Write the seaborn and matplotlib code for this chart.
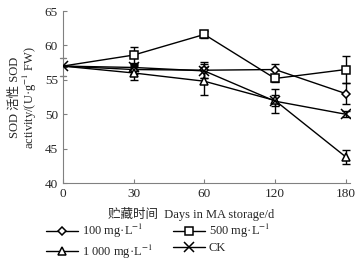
import numpy as np
import pandas as pd
import matplotlib
matplotlib.use('Agg')
import matplotlib.pyplot as plt
import seaborn as sns

# data
days = ['0', '30', '60', '120', '180']
groups = ['100 mg·L$^{-1}$', '500 mg·L$^{-1}$', '1 000 mg·L$^{-1}$', 'CK']
v100 = [57.0, 56.5, 56.4, 56.5, 53.0]
e100 = [0.0, 0.6, 1.2, 0.8, 1.5]
v500 = [57.0, 58.6, 61.6, 55.2, 56.5]
e500 = [0.0, 1.2, 0.5, 0.5, 1.9]
v1000 = [57.0, 56.0, 54.8, 52.0, 43.8]
e1000 = [0.0, 1.0, 2.0, 0.8, 1.0]
vck = [57.0, 56.8, 56.3, 51.9, 50.0]
eck = [0.0, 0.5, 1.0, 1.7, 0.4]

vals = [v100, v500, v1000, vck]
errs = [e100, e500, e1000, eck]
marks = ['D', 's', '^', 'x']
msize = [4.5, 5.5, 6, 7]

sns.set_style('ticks')
plt.rcParams['font.family'] = ['Liberation Serif', 'Noto Sans CJK SC']
plt.rcParams['mathtext.fontset'] = 'stix'
plt.rcParams['font.size'] = 9

fig = plt.figure(figsize=(3.59, 2.63), dpi=100)
ax = fig.add_axes([0.175, 0.304, 0.80, 0.654])

handles = []
for k, (g, v, e, m, s) in enumerate(zip(groups, vals, errs, marks, msize)):
    d = pd.DataFrame({'pos': range(len(days)), 'val': v})
    ax.errorbar(d['pos'], d['val'], yerr=e, fmt='none', ecolor='black',
                elinewidth=1, capsize=3, capthick=1, zorder=1)
    # at day 0 all series share one value, only the CK cross shows there
    mev = None if g == 'CK' else slice(1, None)
    sns.lineplot(data=d, x='pos', y='val', color='black', lw=1, marker=m,
                 ms=s, mfc='white', mec='black', mew=1.1, markevery=mev,
                 ax=ax, zorder=3)
    h, = ax.plot([], [], color='black', lw=1, marker=m, ms=s,
                 mfc='white', mec='black', mew=1.1)
    handles.append(h)

ax.set_xlim(0, 4.06)
ax.set_ylim(40, 65)
ax.set_xticks(range(len(days)))
ax.set_xticklabels(days)
ax.set_yticks([40, 45, 50, 55, 60, 65])
ax.tick_params(direction='in', length=3, color='gray', labelsize=9.5)
for sp in ['top', 'right']:
    ax.spines[sp].set_visible(False)
for sp in ['left', 'bottom']:
    ax.spines[sp].set_color('gray')

# axis break marks on y axis
for yb in [58.2, 55.5]:
    ax.plot([-0.04, 0.04], [yb, yb], color='gray', lw=1, clip_on=False)

ax.set_xlabel('贮藏时间  Days in MA storage/d', fontsize=9, labelpad=5, x=0.445)
ax.set_ylabel('SOD 活性 SOD\nactivity/(U·g$^{-1}$ FW)', fontsize=9,
              linespacing=1.0, labelpad=4)

# legend filled column-wise: 100 / 1000 in first column, 500 / CK in second
order = [0, 2, 1, 3]
fig.legend([handles[i] for i in order], [groups[i] for i in order], ncol=2,
           loc='center', bbox_to_anchor=(0.44, 0.083), frameon=False,
           fontsize=9, handlelength=2.6, columnspacing=1.6, handletextpad=0.3,
           labelspacing=0.2, borderpad=0)

fig.savefig('out.png', dpi=100)
